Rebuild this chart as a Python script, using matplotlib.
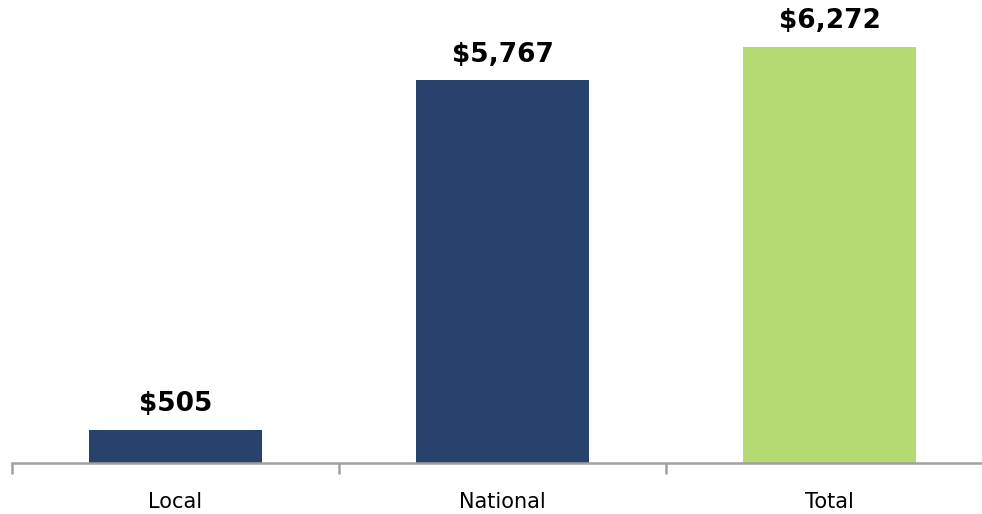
import matplotlib.pyplot as plt
from matplotlib.ticker import FixedLocator

# Data
categories = ["Local", "National", "Total"]
values = [505, 5767, 6272]
labels = ["$505", "$5,767", "$6,272"]
colors = ["#28426E", "#28426E", "#B5DA72"]

fig = plt.figure(figsize=(9.82, 5.14), dpi=100)
ax = fig.add_axes([12 / 982, 51 / 514, 981 / 982, 463 / 514])

x = list(range(len(categories)))
ax.bar(x, values, width=0.527, color=colors)

for xi, v, lab in zip(x, values, labels):
    ax.annotate(lab, xy=(xi, v), xytext=(0, 9), textcoords="offset points",
                ha="center", va="bottom", fontsize=19, fontweight="bold",
                color="black")

ax.set_xlim(-0.5, 2.5)
ax.set_ylim(0, 6980)

for s in ["top", "right", "left"]:
    ax.spines[s].set_visible(False)
ax.spines["bottom"].set_color("#A0A0A0")
ax.spines["bottom"].set_linewidth(1.8)

ax.set_yticks([])
ax.set_xticks(x)
ax.set_xticklabels(categories, fontsize=15)
ax.tick_params(axis="x", which="major", length=0, pad=21)
ax.xaxis.set_minor_locator(FixedLocator([-0.5, 0.5, 1.5]))
ax.tick_params(axis="x", which="minor", length=8, width=1.8, color="#A0A0A0")

fig.savefig("out.png", dpi=100)
